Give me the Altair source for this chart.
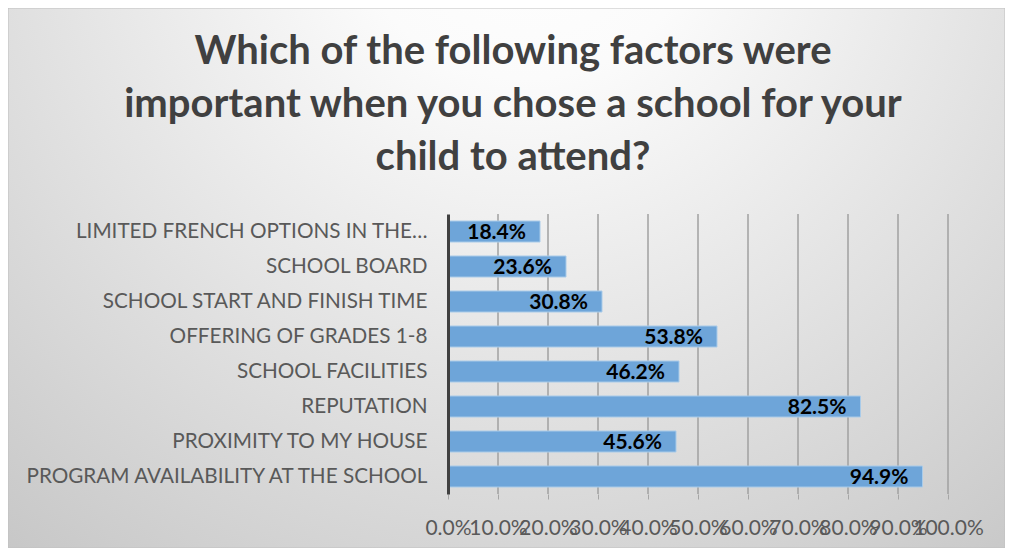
import altair as alt
import pandas as pd

CATEGORIES = [
    "LIMITED FRENCH OPTIONS IN THE…",
    "SCHOOL BOARD",
    "SCHOOL START AND FINISH TIME",
    "OFFERING OF GRADES 1-8",
    "SCHOOL FACILITIES",
    "REPUTATION",
    "PROXIMITY TO MY HOUSE",
    "PROGRAM AVAILABILITY AT THE SCHOOL",
]
VALUES = [0.184, 0.236, 0.308, 0.538, 0.462, 0.825, 0.456, 0.949]
X_TICKS = [0.0, 0.1, 0.2, 0.3, 0.4, 0.5, 0.6, 0.7, 0.8, 0.9, 1.0]
TITLE_LINES = [
    "Which of the following factors were",
    "important when you chose a school for your",
    "child to attend?",
]

W, H = 500, 280
PAD = {"left": 440, "top": 206, "right": 57, "bottom": 54}

df = pd.DataFrame({"factor": CATEGORIES, "share": VALUES})
grid_df = pd.DataFrame({"share": X_TICKS[1:]})

x_scale = alt.Scale(domain=[0, 1], nice=False)
x_axis = alt.Axis(
    title=None, values=X_TICKS, format=".1%", labelFont="Lato", labelFontSize=21,
    labelColor="#595959", labelOverlap=False, labelFlush=False, labelBound=False,
    tickColor="#a6a6a6", tickSize=5, domain=False, grid=False, labelPadding=18,
    zindex=1,
)
y_axis = alt.Axis(
    title=None, labelFont="Lato", labelFontSize=20.7, labelColor="#595959",
    labelPadding=21, labelLimit=440, ticks=False, domainColor="#404040",
    domainWidth=3, grid=False, zindex=1,
)
y_scale = alt.Scale(paddingInner=0.4, paddingOuter=0.2)

gradient = {
    "gradient": "radial",
    "x1": 0.52, "y1": 0.12, "r1": 0,
    "x2": 0.52, "y2": 0.12, "r2": 0.9,
    "stops": [
        {"offset": 0, "color": "#ffffff"},
        {"offset": 0.2, "color": "#fbfbfb"},
        {"offset": 1, "color": "#c2c2c2"},
    ],
}

bg = alt.Chart(pd.DataFrame({"k": [0]})).mark_rect(
    color=gradient, stroke="#c0c0c0", strokeWidth=1
).encode(
    x=alt.value(-PAD["left"]), x2=alt.value(W + PAD["right"]),
    y=alt.value(-PAD["top"]), y2=alt.value(H + PAD["bottom"]),
)

title = alt.Chart(pd.DataFrame({"k": [0]})).mark_text(
    text=TITLE_LINES, font="Lato", fontSize=40, fontWeight="bold",
    color="#404040", lineHeight=53, align="center", baseline="middle",
).encode(x=alt.value(65), y=alt.value(-162))

grid = alt.Chart(grid_df).mark_rule(color="#a0a0a0", strokeWidth=1.5).encode(
    x=alt.X("share:Q", scale=x_scale, axis=x_axis),
    y=alt.value(0), y2=alt.value(H),
)

bars = alt.Chart(df).mark_bar(color="#6ea5d9", stroke="#a9cbe9", strokeWidth=1).encode(
    x=alt.X("share:Q", scale=x_scale, axis=x_axis),
    y=alt.Y("factor:N", sort=CATEGORIES, scale=y_scale, axis=y_axis),
)

labels = alt.Chart(df).mark_text(
    align="right", baseline="middle", dx=-14, dy=1, font="Lato", fontSize=21,
    fontWeight="bold", color="#000000",
).encode(
    x=alt.X("share:Q", scale=x_scale, axis=x_axis),
    y=alt.Y("factor:N", sort=CATEGORIES, scale=y_scale, axis=y_axis),
    text=alt.Text("share:Q", format=".1%"),
)

chart = alt.layer(bg, title, grid, bars, labels).properties(
    width=W, height=H,
    autosize=alt.AutoSizeParams(type="none"),
    padding=PAD,
).configure_view(stroke=None)

chart.save("out.html", embed_options={"renderer": "svg", "actions": False})
